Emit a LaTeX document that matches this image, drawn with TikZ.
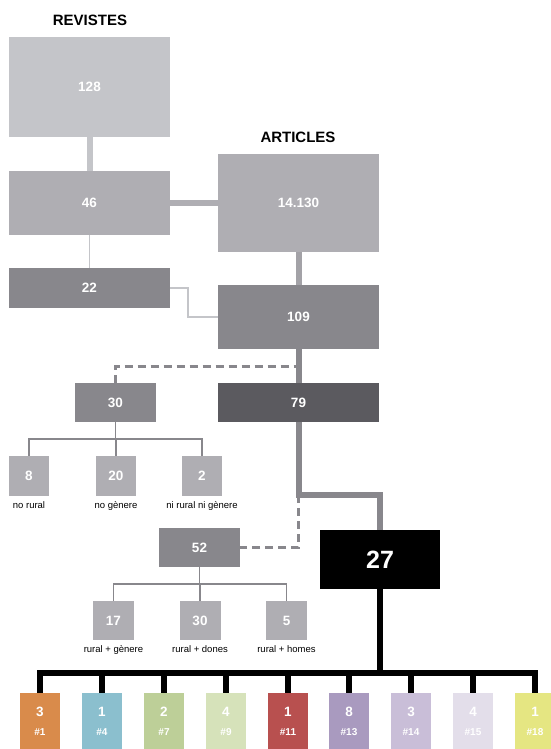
\documentclass[tikz,border=0pt]{standalone}
\usepackage{fontspec}
\setmainfont{Liberation Sans}
\usetikzlibrary{calc}

\definecolor{grisA}{HTML}{C4C5C9}
\definecolor{grisB}{HTML}{AFAEB3}
\definecolor{grisC}{HTML}{88878C}
\definecolor{grisD}{HTML}{5B5A5F}
\definecolor{grisL}{HTML}{A3A2A7}
\definecolor{c1}{HTML}{D98B4B}
\definecolor{c4}{HTML}{8BBFCE}
\definecolor{c7}{HTML}{BDCF98}
\definecolor{c9}{HTML}{D6E2BA}
\definecolor{c11}{HTML}{B8504F}
\definecolor{c13}{HTML}{A99ABF}
\definecolor{c14}{HTML}{C9BED8}
\definecolor{c15}{HTML}{E3DEEA}
\definecolor{c18}{HTML}{E5E682}

\tikzset{
  caixa/.style={fill=#1, text=white, inner sep=0pt,
    font=\fontsize{13.5}{15}\selectfont\bfseries},
  titol/.style={font=\fontsize{15}{17}\selectfont\bfseries},
  etiq/.style={font=\fontsize{9.5}{11}\selectfont, inner sep=0pt},
  gruix/.style={line width=6pt, draw=#1},
  fi/.style={line width=1.5pt, draw=#1},
  puntejat/.style={line width=3pt, draw=grisC, dash pattern=on 8pt off 5pt},
  peu/.style={fill=#1, text=white, inner sep=0pt, minimum width=40pt,
    minimum height=56pt, align=center,
    font=\fontsize{13.5}{21}\selectfont\bfseries},
}

\begin{document}
\begin{tikzpicture}[x=1pt, y=-1pt, line join=miter]
		%%%%% START %%%%%
		\useasboundingbox (0,0) rectangle (551,749);
		
		% titols
		\node[titol] (tRevistes) at (90,20) {REVISTES};
		\node[titol] (tArticles) at (298,137) {ARTICLES};
		
		% revistes
		\node[caixa=grisA, minimum width=161pt, minimum height=100pt] (n128) at (89.5,87) {128};
		\node[caixa=grisB, minimum width=161pt, minimum height=64pt] (n46) at (89.5,203) {46};
		\node[caixa=grisC, minimum width=161pt, minimum height=40pt] (n22) at (89.5,288) {22};
		
		% articles
		\node[caixa=grisB, minimum width=161pt, minimum height=98pt] (n14130) at (298.5,203) {14.130};
		\node[caixa=grisC, minimum width=161pt, minimum height=64pt] (n109) at (298.5,317) {109};
		\node[caixa=grisD, minimum width=161pt, minimum height=39pt] (n79) at (298.5,402.5) {79};
		\node[caixa=grisC, minimum width=81pt, minimum height=39pt] (n30) at (115.5,402.5) {30};
		
		\node[caixa=grisB, minimum size=40pt, label={[etiq, label distance=5pt]below:no rural}] (n8) at (29,476) {8};
		\node[caixa=grisB, minimum size=40pt, label={[etiq, label distance=5pt]below:no gènere}] (n20) at (116,476) {20};
		\node[caixa=grisB, minimum size=40pt, label={[etiq, label distance=5pt]below:ni rural ni gènere}] (n2) at (202,476) {2};
		
		\node[caixa=grisC, minimum width=81pt, minimum height=39pt] (n52) at (199.5,547.5) {52};
		\node[caixa=grisB, minimum width=41pt, minimum height=39pt, label={[etiq, label distance=5pt]below:rural + gènere}] (n17) at (113.5,620.5) {17};
		\node[caixa=grisB, minimum width=41pt, minimum height=39pt, label={[etiq, label distance=5pt]below:rural + dones}] (n30b) at (200,620.5) {30};
		\node[caixa=grisB, minimum width=41pt, minimum height=39pt, label={[etiq, label distance=5pt]below:rural + homes}] (n5) at (286.5,620.5) {5};
		
		\node[caixa=black, minimum width=120pt, minimum height=59pt, font=\fontsize{25}{28}\selectfont\bfseries] (n27) at (380,559.5) {27};
		
		% revistes seleccionades
		\foreach \i/\x/\col/\num/\tag in {1/40/c1/3/1, 2/102/c4/1/4, 3/164/c7/2/7, 4/226/c9/4/9, 5/288/c11/1/11, 6/349/c13/8/13, 7/411/c14/3/14, 8/473/c15/4/15, 9/535/c18/1/18}
			\node[peu=\col] (b\i) at (\x,721) {\num\\[-2pt]{\fontsize{10}{12}\selectfont\#\tag}};
		
		% connexions
		\coordinate (k1) at (298.5,495);
		\coordinate (j30) at (115.5,439);
		\coordinate (j52) at (199.5,584);
		\coordinate (bus) at (380,673);
		
		\draw[gruix=grisA] (n128.south) -- (n46.north);
		\draw[gruix=grisB] (n46.east) -- (n14130.west);
		\draw[gruix=grisL] (n14130.south) -- (n109.north);
		\draw[fi=grisA] (n46.south) -- (n22.north);
		\draw[fi=grisA] (n22.east) -- ++(18,0) |- (n109.west);
		
		\draw[puntejat] (n30.north) |- ($(n109.south)!.5!(n79.north)$);
		\draw[gruix=grisC] (n109.south) -- (n79.north);
		
		\draw[puntejat] (k1) |- (n52.east);
		\draw[gruix=grisC] (n79.south) -- (k1) -| (n27.north);
		
		\draw[fi=grisC] (n30.south) -- (j30);
		\foreach \c in {n8,n20,n2}
			\draw[fi=grisC] (j30) -| (\c.north);
		\draw[fi=grisC] (n52.south) -- (j52);
		\foreach \c in {n17,n30b,n5}
			\draw[fi=grisC] (j52) -| (\c.north);
		
		\draw[gruix=black] (n27.south) -- (bus);
		\draw[gruix=black] (b1.north) |- (bus) -| (b9.north);
		\foreach \i in {2,...,8}
			\draw[gruix=black] (b\i.north) -- (b\i.north |- bus);
		
		%%%%% END %%%%%
	\end{tikzpicture}
\end{document}
